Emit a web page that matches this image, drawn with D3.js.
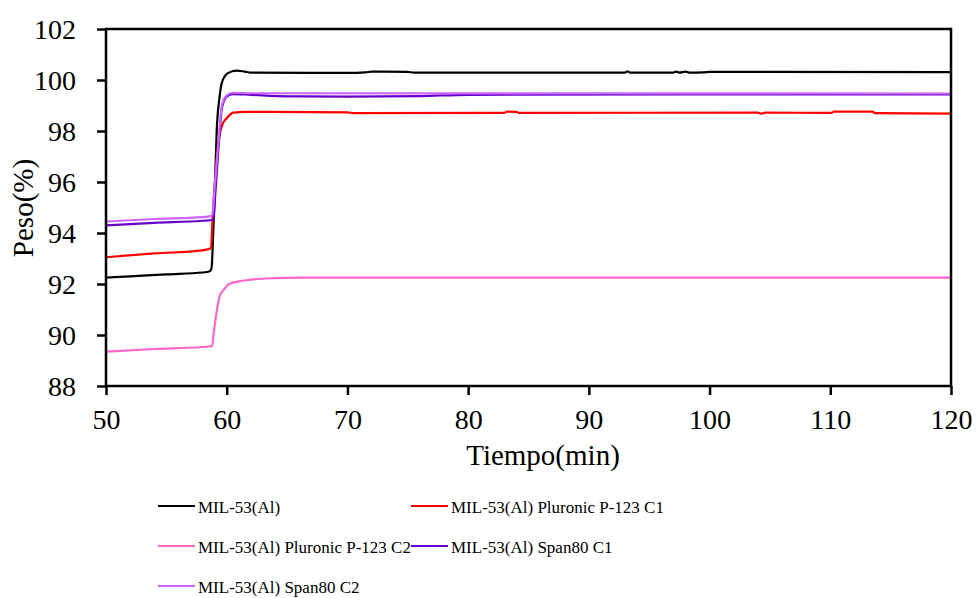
<!DOCTYPE html>
<html lang="en">
<head>
    <meta charset="utf-8">
    <title>Peso vs Tiempo</title>
    <script src="https://d3js.org/d3.v7.min.js"></script>
    <style type="text/css">
        body { margin: 0; background: #fff; }
        svg text { font-family: "Liberation Serif", Tinos, "Times New Roman", Times, "DejaVu Serif", serif; fill: #000; }
    </style>
</head>
<body>
<div class="chart"></div>

<script type="text/javascript">

    // x ticks / y ticks
    var xTicks = [50, 60, 70, 80, 90, 100, 110, 120];
    var yTicks = [88, 90, 92, 94, 96, 98, 100, 102];

    // Series: [tiempo (min), peso (%)]
    var mil53 = [[50,92.25],[52,92.3],[55,92.38],[58,92.45],[58.6,92.5],[58.75,92.65],[58.85,93.6],[59.0,95.5],
        [59.17,98],[59.4,99.3],[59.6,99.9],[60.1,100.27],[60.8,100.37],[61.5,100.33],[62,100.29],[70,100.28],
        [71.5,100.3],[72,100.33],[75,100.32],[75.5,100.29],[93,100.29],[93.2,100.34],[93.4,100.29],[97,100.29],
        [97.2,100.33],[97.5,100.29],[98,100.33],[98.3,100.29],[99.5,100.3],[100,100.32],[120,100.31]];

    var pluronicC1 = [[50,93.05],[54,93.2],[58,93.32],[58.7,93.4],[58.82,94.5],[59.1,96.5],[59.4,97.8],[59.6,98.2],
        [60,98.5],[60.55,98.72],[61.5,98.75],[70,98.73],[70.5,98.7],[83,98.71],[83.2,98.76],[84,98.75],[84.2,98.71],
        [104,98.72],[104.3,98.68],[104.6,98.72],[110.1,98.71],[110.3,98.76],[113.5,98.76],[113.7,98.7],[120,98.68]];

    var pluronicC2 = [[50,89.35],[54,89.45],[58,89.53],[58.8,89.57],[58.9,90.0],[59.1,90.7],[59.4,91.5],[59.8,91.8],
        [60.2,92.0],[61,92.1],[62,92.17],[64,92.23],[66,92.25],[120,92.25]];

    var span80C1 = [[50,94.3],[54,94.4],[58,94.48],[58.9,94.52],[59.05,95.5],[59.3,97.2],[59.6,98.9],[60,99.35],
        [60.5,99.45],[62,99.42],[65,99.36],[70,99.35],[76,99.37],[80,99.42],[120,99.44]];

    var span80C2 = [[50,94.45],[54,94.55],[58,94.62],[58.8,94.68],[59,95.8],[59.3,97.5],[59.6,99.0],[60,99.4],
        [60.5,99.5],[62,99.48],[120,99.47]];

    var seriesNames = ["MIL-53(Al)", "MIL-53(Al) Pluronic P-123 C1", "MIL-53(Al) Pluronic P-123 C2",
        "MIL-53(Al) Span80 C1", "MIL-53(Al) Span80 C2"];
    var seriesData = [mil53, pluronicC1, pluronicC2, span80C1, span80C2];
    var seriesColors = ["#000000", "#ff0000", "#ff66cc", "#6600cc", "#cc66ff"];

    var width = 976, height = 598;
    var plot = {left: 106, right: 951, top: 29, bottom: 386};

    var svg = d3.select(".chart")
        .append("svg")
        .attr("width", width)
        .attr("height", height);

    var x = d3.scaleLinear().domain([50, 120]).range([plot.left, plot.right]);
    var y = d3.scaleLinear().domain([88, 102]).range([plot.bottom, plot.top]);

    var line = d3.line()
        .x(function (d) { return x(d[0]); })
        .y(function (d) { return y(d[1]); })
        .curve(d3.curveMonotoneX);

    // lines
    seriesData.forEach(function (s, i) {
        svg.append("path")
            .datum(s)
            .attr("d", line)
            .attr("fill", "none")
            .attr("stroke", seriesColors[i])
            .attr("stroke-width", 2.2);
    });

    // frame
    svg.append("rect")
        .attr("x", plot.left).attr("y", plot.top)
        .attr("width", plot.right - plot.left)
        .attr("height", plot.bottom - plot.top)
        .attr("fill", "none")
        .attr("stroke", "#000")
        .attr("stroke-width", 2.5);

    // axes
    var xAxis = svg.append("g")
        .attr("transform", "translate(0," + plot.bottom + ")")
        .call(d3.axisBottom(x).tickValues(xTicks).tickSize(9).tickPadding(14).tickSizeOuter(0));
    var yAxis = svg.append("g")
        .attr("transform", "translate(" + plot.left + ",0)")
        .call(d3.axisLeft(y).tickValues(yTicks).tickSize(9).tickPadding(21).tickSizeOuter(0));

    [xAxis, yAxis].forEach(function (a) {
        a.attr("font-family", null);
        a.select(".domain").remove();
        a.selectAll("line").attr("stroke", "#000").attr("stroke-width", 2.5);
        a.selectAll("text")
            .attr("font-size", 28)
            .attr("fill", "#000");
    });
    yAxis.selectAll("text").attr("dy", "0.34em");

    // axis titles
    svg.append("text")
        .attr("x", 543).attr("y", 465)
        .attr("text-anchor", "middle")
        .attr("font-size", 29)
        .text("Tiempo(min)");

    svg.append("text")
        .attr("transform", "translate(33,208) rotate(-90)")
        .attr("text-anchor", "middle")
        .attr("font-size", 29)
        .text("Peso(%)");

    // legend
    var legendPos = [[158, 506], [411, 506], [158, 546], [411, 546], [158, 586]];
    seriesNames.forEach(function (name, i) {
        var p = legendPos[i];
        svg.append("line")
            .attr("x1", p[0]).attr("x2", p[0] + 37)
            .attr("y1", p[1]).attr("y2", p[1])
            .attr("stroke", seriesColors[i])
            .attr("stroke-width", 2.2);
        svg.append("text")
            .attr("x", p[0] + 40).attr("y", p[1] + 7)
            .attr("font-size", 17)
            .text(name);
    });

</script>
</body>
</html>
